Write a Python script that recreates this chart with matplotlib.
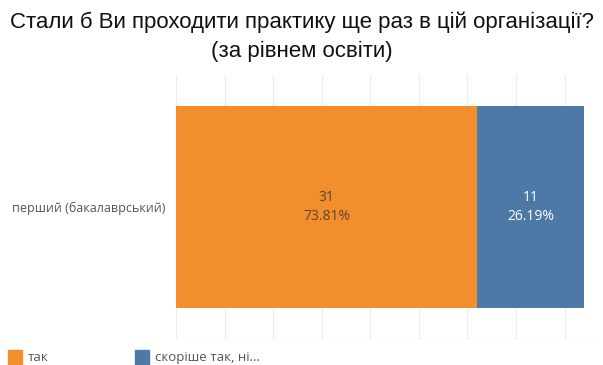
import matplotlib
matplotlib.use("Agg")
import matplotlib.pyplot as plt
from matplotlib.patches import Rectangle

categories = ["перший (бакалаврський)"]
series_names = ["так", "скоріше так, ні..."]
counts = [31, 11]
percents = ["73.81%", "26.19%"]
colors = ["#F28E2B", "#4E79A7"]
label_colors = ["#5b4630", "#ffffff"]
title = "Стали б Ви проходити практику ще раз в цій організації?\n(за рівнем освіти)"

W, H = 603, 365
fig = plt.figure(figsize=(W / 100, H / 100), dpi=100)
ax = fig.add_axes([176 / W, 26 / H, 424 / W, 264 / H])

left = 0
for c, col, pc, lc in zip(counts, colors, percents, label_colors):
    ax.barh(0, c, left=left, height=0.766, color=col, zorder=3)
    ax.text(left + c / 2, 0, f"{c}\n{pc}", ha="center", va="center",
            fontsize=10, color=lc, family="Open Sans", linespacing=1.35, zorder=4)
    left += c

ax.set_xlim(0, 43.65)
ax.set_ylim(-0.5, 0.5)
for x in range(0, 45, 5):
    ax.axvline(x, color="#ececec", lw=0.8, zorder=1)
ax.axhline(-0.5, color="#e6e6e6", lw=1.0, zorder=1)
for s in ax.spines.values():
    s.set_visible(False)
ax.set_xticks([])
ax.set_yticks([0])
ax.set_yticklabels(categories, fontsize=9.0, color="#555555", family="Open Sans")
ax.tick_params(axis="y", length=0, pad=8)

fig.text(0.5, 1 - 37 / H, title, ha="center", va="center", fontsize=16,
         family="Liberation Sans", color="#111111", linespacing=1.5)

# legend
lx = [8, 135]
tx = [28, 155]
for i, name in enumerate(series_names):
    fig.patches.append(Rectangle((lx[i] / W, 0), 14 / W, 15 / H,
                                 transform=fig.transFigure, color=colors[i]))
    fig.text(tx[i] / W, 1 / H, name, ha="left", va="bottom", fontsize=9.5,
             color="#555555", family="Open Sans")

fig.savefig("out.png", dpi=100)
